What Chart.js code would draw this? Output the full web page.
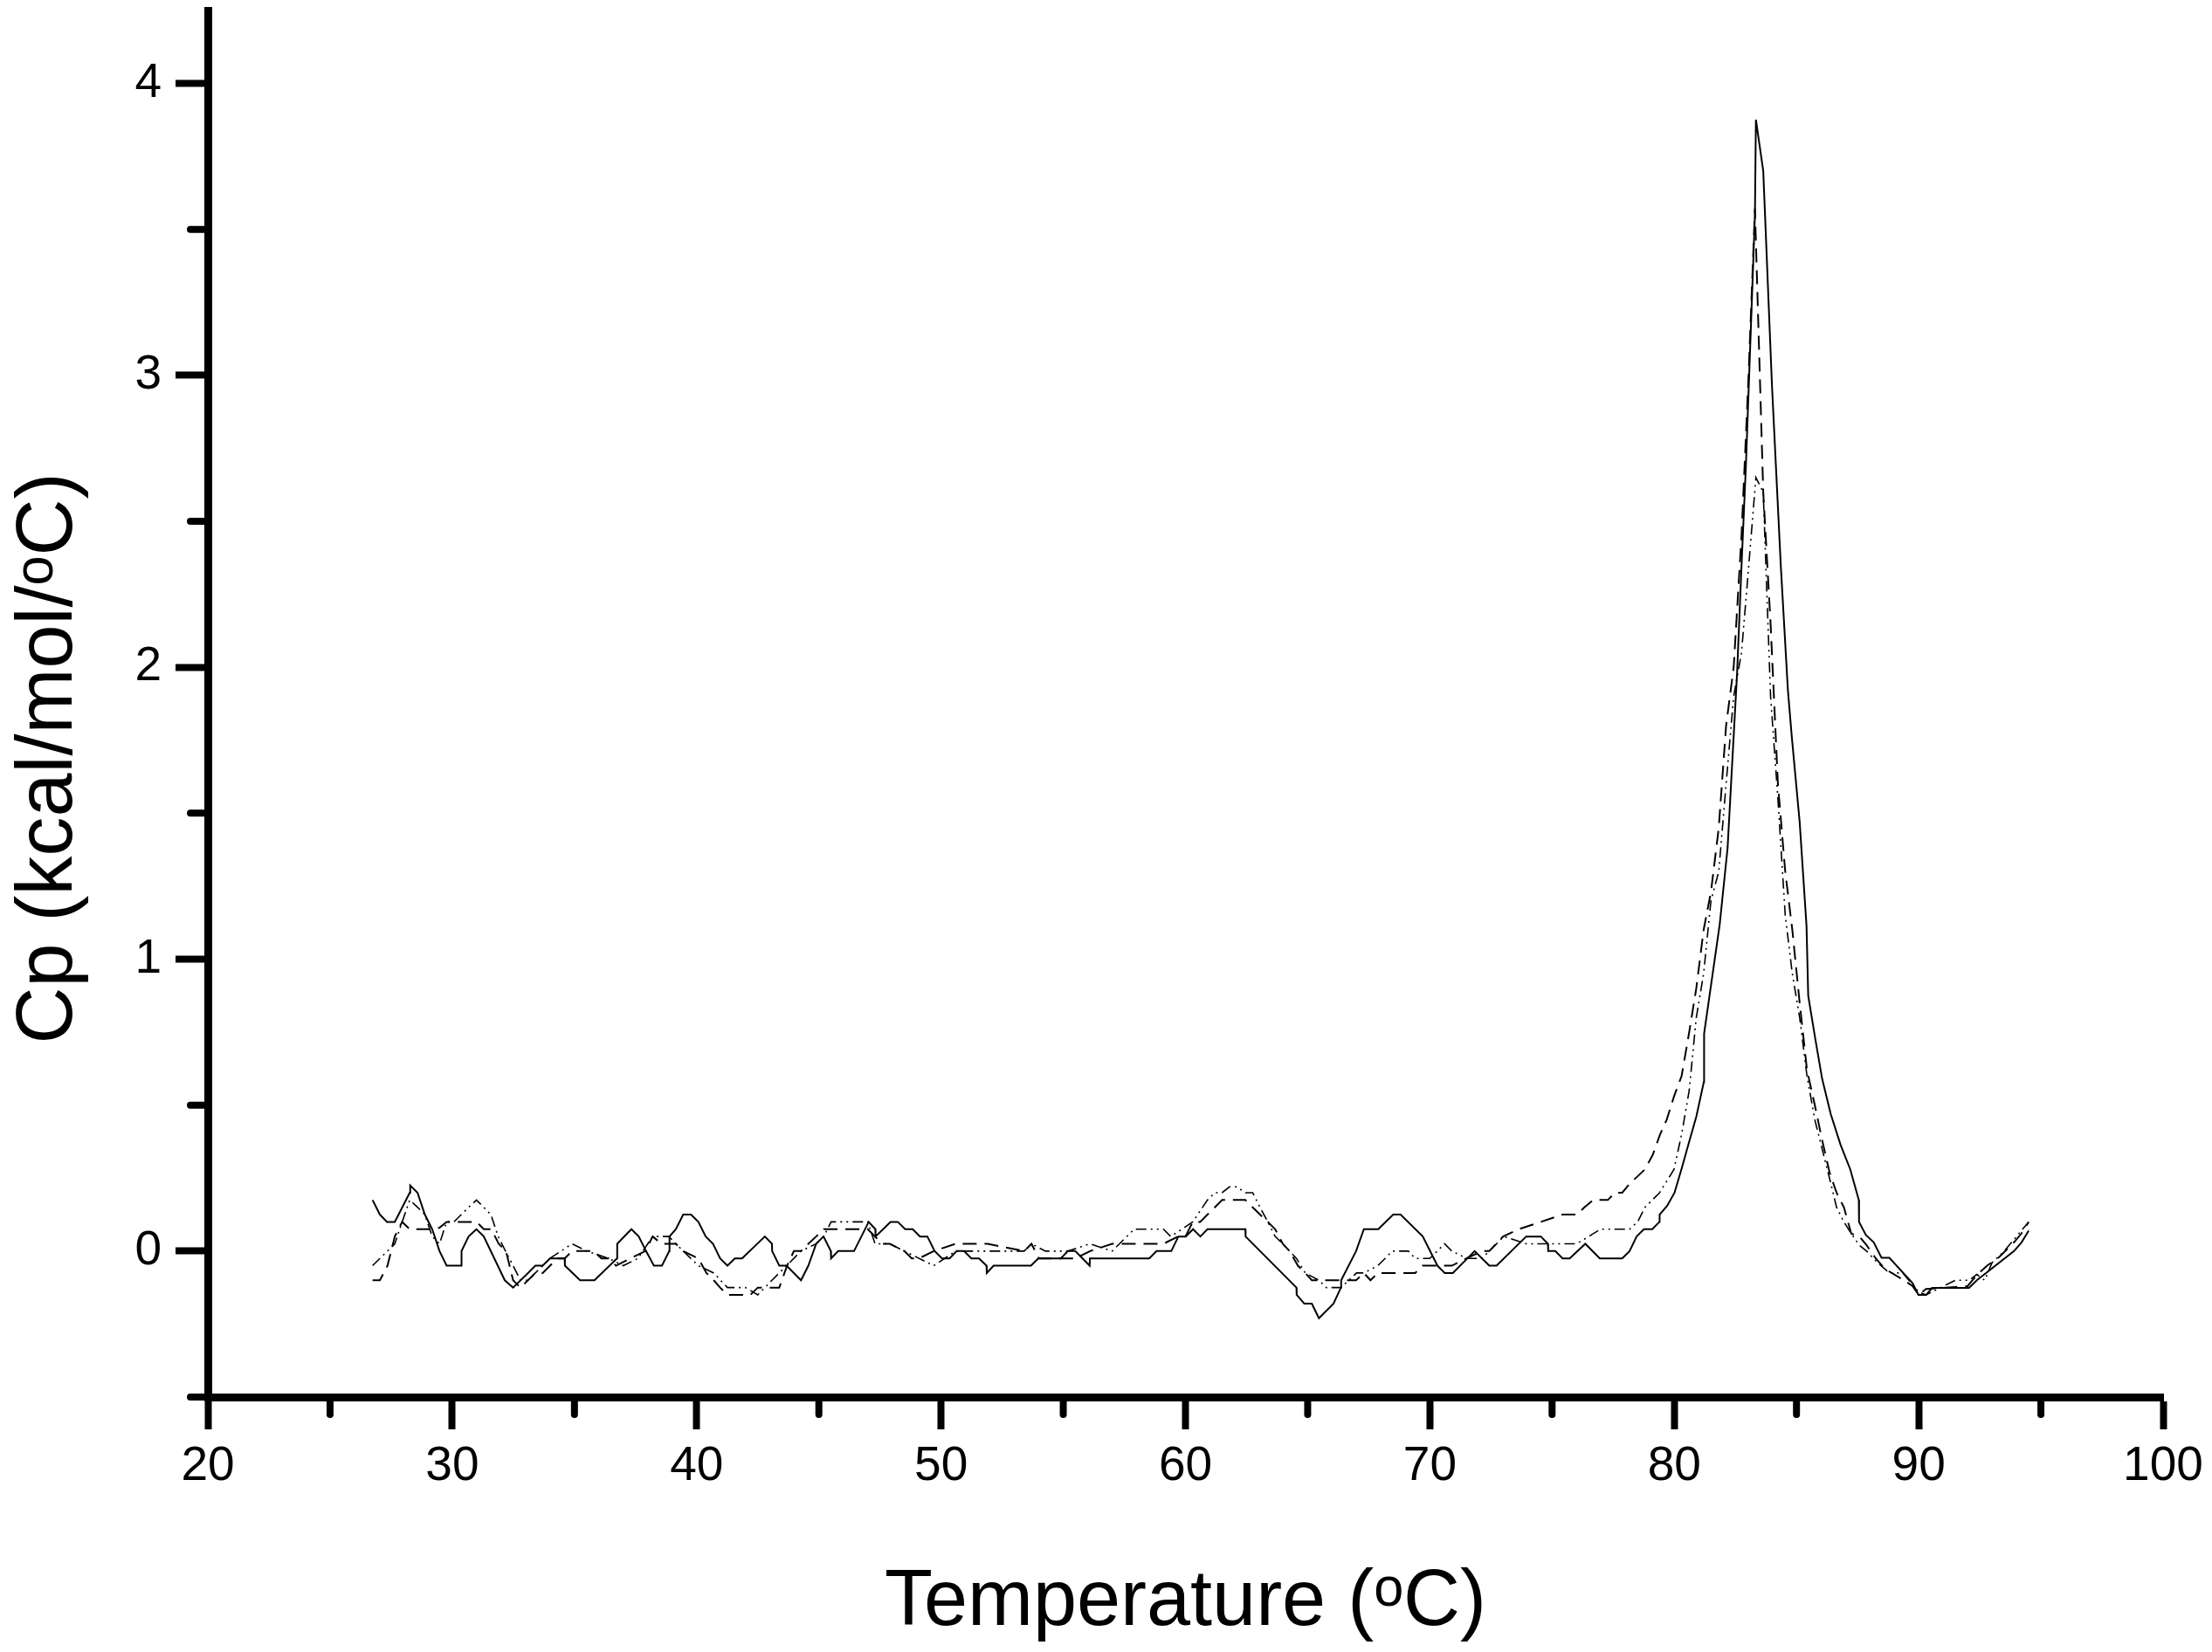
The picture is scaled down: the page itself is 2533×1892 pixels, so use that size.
<!DOCTYPE html>
<html>
<head>
<meta charset="utf-8">
<script src="https://cdn.jsdelivr.net/npm/chart.js@4.4.1/dist/chart.umd.min.js"></script>
<style>
  html, body { margin: 0; padding: 0; background: #ffffff; }
  #wrap { width: 2533px; height: 1892px; position: relative; }
  canvas { display: block; }
</style>
</head>
<body>
<div id="wrap"><canvas id="c" width="2533" height="1892"></canvas></div>
<script>
// ---- tick values ----
const xTicks = [20, 30, 40, 50, 60, 70, 80, 90, 100];
const xMinorTicks = [25, 35, 45, 55, 65, 75, 85, 95];
const yTicks = [0, 1, 2, 3, 4];
const yMinorTicks = [-0.5, 0.5, 1.5, 2.5, 3.5];

// ---- series 1 (solid) ----
const solidTemp = [26.74,27.04,27.33,27.65,28.26,28.28,28.58,28.88,29.18,29.48,29.77,30.37,30.38,30.67,30.99,31.29,32.15,32.49,33.1,33.4,33.7,34.0,34.6,34.61,35.23,35.82,36.74,36.75,37.33,37.63,37.93,38.25,38.58,38.88,38.89,39.15,39.45,39.77,40.07,40.37,40.67,40.96,41.26,41.56,41.86,42.79,43.08,43.09,43.38,43.68,44.27,44.57,44.89,45.19,45.49,45.5,45.79,46.44,47.04,47.31,47.32,47.93,48.23,48.53,48.84,49.14,49.44,49.74,50.04,50.35,50.64,50.94,51.24,51.55,51.86,51.87,52.15,53.68,53.98,54.9,55.19,55.49,56.08,56.09,58.52,58.82,59.42,59.71,60.01,60.31,60.61,60.9,62.45,62.46,64.54,64.55,64.86,65.17,65.46,66.06,66.36,66.37,66.98,67.3,67.89,68.5,68.8,69.71,70.31,70.61,70.94,71.83,72.43,72.73,73.94,74.54,74.83,74.84,75.13,75.43,75.72,76.36,76.95,77.87,78.17,78.46,78.76,79.1,79.39,79.4,79.71,80.01,80.31,80.61,80.9,81.21,81.22,81.86,82.18,82.57,82.75,82.93,83.3,83.34,83.64,84.0,84.36,84.65,84.81,85.13,85.41,85.48,85.77,86.05,86.4,86.8,87.2,87.55,87.56,87.84,88.16,88.48,88.8,89.75,89.99,90.31,90.55,92.06,92.38,93.9,94.21,94.5];
const solidCp = [0.175,0.125,0.10,0.10,0.20,0.225,0.20,0.125,0.075,0.0,-0.05,-0.05,0.0,0.05,0.075,0.05,-0.10,-0.125,-0.075,-0.05,-0.05,-0.025,-0.025,-0.05,-0.10,-0.10,-0.025,0.025,0.075,0.05,0.0,-0.05,-0.05,0.0,0.05,0.075,0.125,0.125,0.10,0.05,0.025,-0.025,-0.05,-0.025,-0.025,0.05,0.025,0.0,-0.05,-0.05,-0.10,-0.05,0.025,0.05,0.0,-0.025,0.0,0.0,0.10,0.075,0.05,0.10,0.10,0.075,0.075,0.05,0.05,0.0,-0.025,-0.025,0.0,0.0,-0.025,-0.025,-0.05,-0.075,-0.05,-0.05,-0.025,-0.025,0.0,0.0,-0.05,-0.025,-0.025,0.0,0.0,0.05,0.05,0.075,0.05,0.075,0.075,0.05,-0.125,-0.15,-0.18,-0.18,-0.23,-0.18,-0.125,-0.10,0.0,0.075,0.075,0.125,0.125,0.05,-0.05,-0.075,-0.075,0.0,-0.05,-0.05,0.05,0.05,0.025,0.0,0.0,-0.025,-0.025,0.025,-0.025,-0.025,0.0,0.05,0.075,0.075,0.10,0.125,0.155,0.20,0.285,0.375,0.46,0.58,0.745,1.12,1.38,1.98,2.345,2.69,3.55,3.876,3.70,2.96,2.345,1.92,1.76,1.47,1.115,0.875,0.727,0.59,0.47,0.365,0.28,0.175,0.10,0.055,0.03,-0.023,-0.023,-0.11,-0.15,-0.15,-0.126,-0.126,-0.10,0.0,0.03,0.07];

// ---- series 2 (dashed) ----
const dashTemp = [26.74,27.04,27.35,27.65,27.95,28.26,29.18,29.48,29.77,30.67,31.0,31.29,31.6,31.9,32.2,32.49,32.79,33.1,33.4,33.7,34.3,34.6,34.9,35.8,36.1,36.4,36.7,37.3,37.9,38.2,38.56,39.15,39.45,40.07,40.4,40.7,40.96,41.26,42.2,42.5,43.38,43.7,43.98,44.27,44.57,44.89,45.2,47.0,47.3,47.6,47.9,48.5,48.8,49.1,49.7,50.6,51.9,53.4,53.7,54.0,55.5,56.1,57.0,59.1,59.7,60.0,60.3,60.6,60.9,61.2,61.5,62.45,62.75,63.05,63.37,63.67,63.98,64.26,64.6,64.9,65.17,66.98,67.3,67.57,67.87,68.17,69.4,69.7,70.9,71.5,72.13,72.43,73.0,73.64,74.54,75.43,76.02,76.32,76.68,77.28,77.57,77.87,78.17,78.8,79.12,79.42,79.69,79.99,80.3,80.61,80.9,81.2,81.5,81.82,82.12,82.43,82.75,83.04,83.3,83.64,83.94,84.24,84.54,84.83,85.13,85.43,85.75,86.05,86.35,86.64,86.94,87.24,87.57,87.87,88.2,88.5,88.8,89.4,89.75,90.0,90.3,92.0,92.4,92.8,93.3,93.9,94.2,94.5];
const dashCp = [-0.10,-0.10,-0.05,0.05,0.10,0.075,0.075,0.08,0.10,0.10,0.10,0.075,0.075,0.025,0.0,-0.10,-0.125,-0.10,-0.075,-0.075,-0.025,-0.025,0.0,0.0,-0.025,-0.025,-0.05,-0.025,0.0,0.05,0.025,0.025,0.0,-0.025,-0.075,-0.10,-0.125,-0.15,-0.15,-0.125,-0.125,-0.05,0.0,0.0,0.025,0.05,0.075,0.075,0.05,0.025,0.025,0.0,-0.025,-0.025,0.0,0.025,0.025,0.0,0.025,-0.025,-0.025,0.0,0.025,0.025,0.05,0.05,0.10,0.10,0.125,0.15,0.175,0.175,0.15,0.125,0.10,0.075,0.025,0.0,-0.05,-0.075,-0.10,-0.10,-0.075,-0.10,-0.075,-0.075,-0.075,-0.05,-0.05,-0.025,0.0,0.0,0.05,0.075,0.10,0.125,0.125,0.15,0.175,0.175,0.20,0.20,0.23,0.28,0.33,0.40,0.45,0.53,0.60,0.75,0.90,1.10,1.23,1.45,1.80,2.00,2.45,3.00,3.57,2.60,2.15,1.60,1.30,1.10,0.85,0.62,0.50,0.38,0.27,0.20,0.15,0.06,0.05,0.02,-0.02,-0.05,-0.07,-0.10,-0.12,-0.15,-0.13,-0.12,-0.08,-0.05,-0.02,0.03,0.06,0.10];

// ---- series 3 (dash-dot-dot) ----
const dotTemp = [26.74,27.04,27.35,27.65,27.95,28.26,28.58,28.88,29.18,29.48,29.77,30.07,30.37,30.67,30.99,31.29,31.58,31.88,32.18,32.49,32.79,33.1,33.4,34.0,34.9,35.5,36.4,37.0,37.6,38.2,38.86,39.45,40.07,40.7,41.26,42.0,42.5,43.08,43.38,43.68,44.27,44.89,45.2,45.5,46.7,47.0,47.3,47.9,48.5,49.7,50.6,53.4,53.7,54.27,55.2,56.08,57.0,57.9,59.1,59.4,60.3,60.9,61.2,61.5,61.8,62.1,62.45,62.75,63.05,63.37,63.67,63.98,64.54,64.9,65.46,65.76,66.36,67.0,67.3,67.87,68.17,68.46,69.12,69.4,70.0,70.6,70.9,71.5,72.13,72.43,72.73,73.02,73.94,76.0,76.5,76.98,78.17,78.5,78.8,79.4,79.99,80.3,80.61,80.9,81.2,81.5,81.82,82.12,82.43,82.75,83.0,83.34,83.64,83.94,84.24,84.54,84.83,85.13,85.43,85.75,86.05,86.35,86.64,86.94,87.24,87.57,87.87,88.2,88.8,89.35,89.7,90.0,90.3,91.5,92.06,92.38,92.7,93.0,93.5,94.0,94.5];
const dotCp = [-0.05,-0.025,0.0,0.025,0.10,0.175,0.15,0.125,0.05,0.025,0.10,0.10,0.125,0.15,0.175,0.15,0.125,0.05,0.0,-0.05,-0.10,-0.10,-0.075,-0.025,0.025,0.0,-0.025,-0.05,-0.025,0.05,0.05,0.0,-0.05,-0.075,-0.125,-0.125,-0.15,-0.10,-0.075,-0.05,0.0,0.025,0.05,0.10,0.10,0.10,0.025,0.025,0.0,-0.05,0.0,0.0,0.025,0.0,0.0,0.025,0.0,0.075,0.075,0.05,0.10,0.175,0.20,0.20,0.22,0.22,0.20,0.20,0.15,0.10,0.05,0.025,-0.025,-0.075,-0.10,-0.125,-0.125,-0.075,-0.075,-0.05,-0.025,0.0,0.0,-0.025,-0.025,0.025,0.0,-0.025,-0.025,0.0,0.025,0.05,0.025,0.025,0.05,0.075,0.075,0.10,0.15,0.20,0.28,0.40,0.55,0.80,0.95,1.20,1.30,1.60,1.90,2.05,2.30,2.65,2.60,1.90,1.55,1.15,0.95,0.80,0.60,0.45,0.35,0.25,0.15,0.10,0.06,0.02,0.0,-0.03,-0.075,-0.075,-0.11,-0.14,-0.15,-0.10,-0.10,-0.08,-0.10,-0.04,0.0,0.05,0.10];

const xTitle = 'Temperature (\u1D52C)';
const yTitle = 'Cp (kcal/mol/\u1D52C)';

function pts(t, v) { return t.map((x, i) => ({ x: x, y: v[i] })); }

const minorTickPlugin = {
  id: 'minorTicks',
  afterDraw(chart) {
    const ctx = chart.ctx, xs = chart.scales.x, ys = chart.scales.y, a = chart.chartArea;
    ctx.save();
    ctx.strokeStyle = '#000';
    ctx.lineWidth = 8;
    ctx.lineCap = 'round';
    xMinorTicks.forEach(v => {
      const px = xs.getPixelForValue(v);
      ctx.beginPath(); ctx.moveTo(px, a.bottom); ctx.lineTo(px, a.bottom + 20); ctx.stroke();
    });
    yMinorTicks.forEach(v => {
      const py = ys.getPixelForValue(v);
      ctx.beginPath(); ctx.moveTo(a.left, py); ctx.lineTo(a.left - 20, py); ctx.stroke();
    });
    ctx.restore();
  }
};

const tickFont = { family: "'Liberation Sans', Arial, sans-serif", size: 55 };
const titleFont = { family: "'Liberation Sans', Arial, sans-serif", size: 90, lineHeight: 1 };

function zeroPad(s) { s.paddingTop = 0; s.paddingBottom = 0; s.paddingLeft = 0; s.paddingRight = 0; }

new Chart(document.getElementById('c'), {
  type: 'line',
  data: {
    datasets: [
      { label: 'solid', data: pts(solidTemp, solidCp), borderColor: '#000', borderWidth: 2, pointRadius: 0, tension: 0, fill: false },
      { label: 'dashed', data: pts(dashTemp, dashCp), borderColor: '#000', borderWidth: 2, borderDash: [16, 9], pointRadius: 0, tension: 0, fill: false },
      { label: 'dashdot', data: pts(dotTemp, dotCp), borderColor: '#000', borderWidth: 1.6, borderDash: [12, 5, 2, 5, 2, 5], pointRadius: 0, tension: 0, fill: false }
    ]
  },
  options: {
    responsive: false,
    devicePixelRatio: 1,
    animation: false,
    events: [],
    layout: { padding: { left: 0, top: 12, right: 56, bottom: 0 } },
    plugins: { legend: { display: false }, tooltip: { enabled: false }, title: { display: false } },
    scales: {
      x: {
        type: 'linear', min: 20, max: 100,
        afterFit(s) { s.height = 292; zeroPad(s); },
        afterBuildTicks(s) { s.ticks = xTicks.map(v => ({ value: v })); },
        grid: { drawOnChartArea: false, drawTicks: true, tickLength: 37, tickWidth: 8, tickColor: '#000' },
        border: { display: true, color: '#000', width: 9 },
        ticks: { color: '#000', font: tickFont, padding: 10, maxRotation: 0, autoSkip: false },
        title: { display: true, text: xTitle, color: '#000', font: titleFont, padding: { top: 0, bottom: 11 } }
      },
      y: {
        type: 'linear', min: -0.5, max: 4.25,
        afterFit(s) { s.width = 238; zeroPad(s); },
        afterBuildTicks(s) { s.ticks = yTicks.map(v => ({ value: v })); },
        grid: { drawOnChartArea: false, drawTicks: true, tickLength: 37, tickWidth: 8, tickColor: '#000' },
        border: { display: true, color: '#000', width: 9 },
        ticks: { color: '#000', font: tickFont, padding: 16, autoSkip: false },
        title: { display: true, text: yTitle + '     ', color: '#000', font: titleFont, padding: { top: 12, bottom: 0 } }
      }
    }
  },
  plugins: [minorTickPlugin]
});
</script>
</body>
</html>
